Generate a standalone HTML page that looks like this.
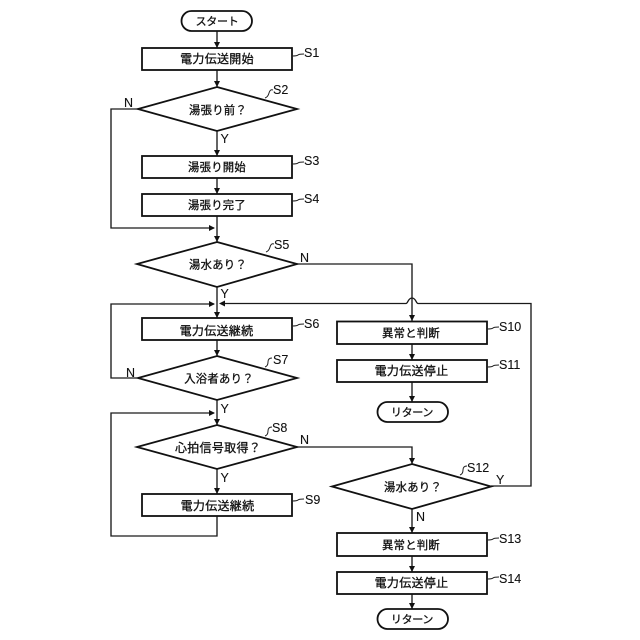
<!DOCTYPE html>
<html><head><meta charset="utf-8"><style>
html,body{margin:0;padding:0;background:#fff}
svg{display:block}
.j{font-family:"Liberation Sans","Noto Sans CJK JP",sans-serif;font-size:12px;text-anchor:middle;letter-spacing:.3px;fill:#111;stroke:#111;stroke-width:.3px}
.m{font-size:11.3px}
.k{font-size:11px;letter-spacing:-.3px}
.l{font-family:"Liberation Sans",sans-serif;font-size:12.5px;fill:#111;stroke:#111;stroke-width:.1px}
.b{fill:#fff;stroke:#111;stroke-width:1.8}
.c{fill:none;stroke:#1a1a1a;stroke-width:1.35}
.h{fill:#111;stroke:none}
.s{fill:none;stroke:#222;stroke-width:1}
</style></head><body>
<svg width="640" height="640" viewBox="0 0 640 640" xmlns="http://www.w3.org/2000/svg">
<rect width="640" height="640" fill="#fff"/>
<!-- connectors -->
<path class="c" d="M217 31V48M217 70V87M217 131V156M217 178V194M217 216V242M217 287V318M217 340V356M217 400V425M217 469V494"/>
<path class="c" d="M138 109H111V228H214"/>
<path class="c" d="M137 378H111V304H214"/>
<path class="c" d="M217 516V536H111V413H214"/>
<path class="c" d="M297 264H412V321M412 344V360M412 382V402"/>
<path class="c" d="M297 447H412V464M412 509V533M412 556V572M412 594V609"/>
<path class="c" d="M491 486H531V303.500H418C416 303.500 416 298 412 298C408 298 408 303.500 406 303.500H221"/>
<!-- arrowheads -->
<g class="h">
<path d="M214 42l3 6 3-6z"/><path d="M214 81l3 6 3-6z"/><path d="M214 150l3 6 3-6z"/><path d="M214 188l3 6 3-6z"/><path d="M214 236l3 6 3-6z"/><path d="M214 312l3 6 3-6z"/><path d="M214 350l3 6 3-6z"/><path d="M214 419l3 6 3-6z"/><path d="M214 488l3 6 3-6z"/>
<path d="M409 315l3 6 3-6z"/><path d="M409 354l3 6 3-6z"/><path d="M409 396l3 6 3-6z"/><path d="M409 458l3 6 3-6z"/><path d="M409 527l3 6 3-6z"/><path d="M409 566l3 6 3-6z"/><path d="M409 603l3 6 3-6z"/>
<path d="M209 225l6 3-6 3z"/><path d="M209 301l6 3-6 3z"/><path d="M209 410l6 3-6 3z"/><path d="M225 300.500l-6 3 6 3z"/>
</g>
<!-- shapes -->
<rect class="b" x="181.500" y="11" width="70.500" height="20" rx="10"/>
<rect class="b" x="142" y="48" width="150" height="22"/>
<polygon class="b" points="217,87 297,109 217,131 138,109"/>
<rect class="b" x="142" y="156" width="150" height="22"/>
<rect class="b" x="142" y="194" width="150" height="22"/>
<polygon class="b" points="217,242 297,264 217,287 137,264"/>
<rect class="b" x="142" y="318" width="150" height="22"/>
<polygon class="b" points="217,356 297,378 217,400 138,378"/>
<polygon class="b" points="217,425 297,447 217,469 137,447"/>
<rect class="b" x="142" y="494" width="150" height="22"/>
<rect class="b" x="337" y="321.500" width="150" height="22.500"/>
<rect class="b" x="337" y="360" width="150" height="22"/>
<rect class="b" x="377.500" y="402" width="70.500" height="20" rx="10"/>
<polygon class="b" points="412,464 491,486.500 412,509 332,486.500"/>
<rect class="b" x="337" y="533" width="150" height="23"/>
<rect class="b" x="337" y="572" width="150" height="22"/>
<rect class="b" x="377.500" y="609" width="70.500" height="20" rx="10"/>
<!-- node labels -->
<g class="j">
<text class="k" x="217" y="25">スタート</text>
<text x="217" y="63">電力伝送開始</text>
<text class="m" x="218" y="114">湯張り前？</text>
<text class="m" x="217" y="171">湯張り開始</text>
<text class="m" x="217" y="209">湯張り完了</text>
<text class="m" x="218" y="268.500">湯水あり？</text>
<text x="216.500" y="335">電力伝送継続</text>
<text class="m" x="219" y="382.500">入浴者あり？</text>
<text x="218" y="452">心拍信号取得？</text>
<text x="217.500" y="510">電力伝送継続</text>
<text class="m" x="411" y="337">異常と判断</text>
<text x="411.500" y="375">電力伝送停止</text>
<text class="k" x="412" y="416">リターン</text>
<text class="m" x="413" y="491">湯水あり？</text>
<text class="m" x="411" y="549">異常と判断</text>
<text x="411.500" y="587">電力伝送停止</text>
<text class="k" x="412" y="623">リターン</text>
</g>
<!-- step callouts -->
<path class="s" d="M292 56q5 0 6-1t6-1M292 164q5 0 6-1t6-1M292 201q5 0 6-1t6-1M292 326q5 0 6-1t6-1M292 501q5 0 6-1t6-1M487 329q5 0 6-1t6-1M487 367q5 0 6-1t6-1M487 540q5 0 6-1t6-1M487 579q5 0 6-1t6-1"/>
<path class="s" d="M265 98q3-1 4-5t4-3M266 252q3-1 4-5t4-3M265 367q3-1 3-5t4-4M265 436q3-1 3-5t4-4M460 475q3-1 3-5t4-4"/>
<g class="l">
<text x="304" y="57">S1</text><text x="273" y="94">S2</text><text x="304" y="165">S3</text><text x="304" y="203">S4</text>
<text x="274" y="249">S5</text><text x="304" y="328">S6</text><text x="273" y="364">S7</text><text x="272" y="432">S8</text>
<text x="305" y="504">S9</text><text x="499" y="331">S10</text><text x="499" y="369">S11</text><text x="467" y="472">S12</text>
<text x="499" y="543">S13</text><text x="499" y="583">S14</text>
<text x="124" y="107">N</text><text x="220.500" y="143">Y</text><text x="300" y="262">N</text><text x="220.500" y="298">Y</text>
<text x="126" y="377">N</text><text x="220.500" y="413">Y</text><text x="300" y="444">N</text><text x="220.500" y="482">Y</text>
<text x="496" y="484">Y</text><text x="416" y="521">N</text>
</g>
</svg>
</body></html>
